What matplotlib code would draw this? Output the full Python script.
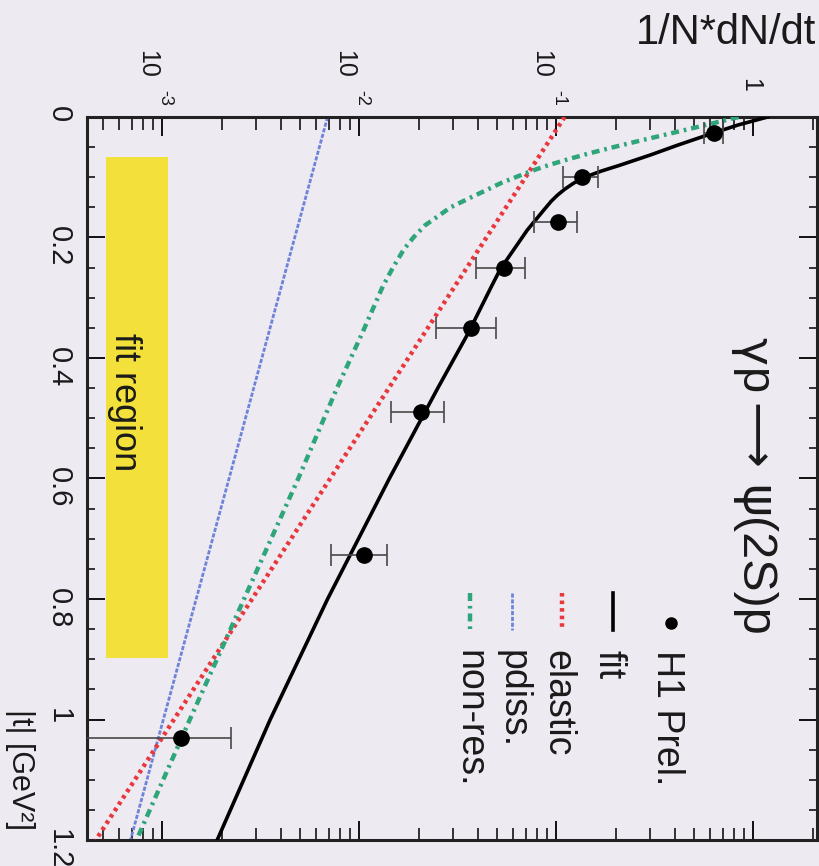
import matplotlib
matplotlib.use("Agg")
import matplotlib.pyplot as plt
import matplotlib.transforms as mtransforms
import numpy as np
from matplotlib.lines import Line2D
from matplotlib.ticker import FixedLocator, FixedFormatter, LogLocator, NullFormatter, MultipleLocator

plt.rcParams['font.family'] = ['Liberation Sans', 'DejaVu Sans']

# H1 preliminary: normalised dN/dt vs |t|
t_data = [0.027, 0.10, 0.175, 0.25, 0.35, 0.49, 0.727, 1.03]
dndt_data = [0.63, 0.135, 0.102, 0.054, 0.037, 0.0206, 0.0105, 0.00124]
dndt_err = [0.07, 0.027, 0.025, 0.015, 0.0125, 0.0062, 0.0033, 0.0010]

t_fit = [0.0, 0.013, 0.027, 0.047, 0.063, 0.08, 0.09, 0.10, 0.11, 0.12, 0.13, 0.14, 0.155,
         0.188, 0.221, 0.252, 0.28, 0.36, 0.45, 0.60, 0.80, 1.00, 1.20]
fit_curve = [1.18, 0.84, 0.62, 0.41, 0.30, 0.21, 0.168, 0.139, 0.122, 0.110, 0.101, 0.094,
             0.086, 0.071, 0.0605, 0.052, 0.047, 0.0355, 0.025, 0.0142, 0.0069, 0.00353, 0.0019]

# non-resonant background
t_nonres = [0.0, 0.01, 0.02, 0.03, 0.04, 0.05, 0.06, 0.07, 0.08, 0.09, 0.10, 0.11, 0.12,
            0.135, 0.15, 0.165, 0.18, 0.20, 0.22, 0.25, 0.28, 0.36, 0.45, 0.60, 0.80, 1.00, 1.20]
nonres_curve = [0.84, 0.63, 0.47, 0.35, 0.26, 0.195, 0.148, 0.115, 0.091, 0.074, 0.062, 0.052,
                0.045, 0.036, 0.029, 0.025, 0.0215, 0.0188, 0.0168, 0.0148, 0.0132, 0.0103,
                0.0077, 0.0049, 0.0026, 0.00138, 0.00074]

# pure exponentials: straight lines on the log axis
t_line = [0.0, 1.2]
elastic_line = [0.11, 4.6e-4]
pdiss_line = [0.0069, 6.9e-4]

fit_t_range = [0.066, 0.898]
fit_band = [5.2e-4, 1.07e-3]

decade_ticks = [1e-3, 1e-2, 1e-1]
decade_exps = ['-3', '-2', '-1']
t_ticks = [0, 0.2, 0.4, 0.6, 0.8, 1.0, 1.2]
t_labels = ['0', '0.2', '0.4', '0.6', '0.8', '1', '1.2']
legend_labels = ['H1 Prel.', 'fit', 'elastic', 'pdiss.', 'non-res.']

bg = '#eeeaf2'
ink = '#1a1a1a'
red = '#e8383d'
blue = '#6f84d8'
green = '#2fa57a'
W, H = 820, 866


def fig_xy(x, y):
    return x / W, 1 - y / H


fig = plt.figure(figsize=(W / 100, H / 100), dpi=100, facecolor=bg)
ax = fig.add_axes([87 / W, 1 - 840 / H, 730 / W, 723 / H], facecolor=bg)

ax.fill_betweenx(fit_t_range, fit_band[0], fit_band[1], color='#f4e03a', lw=0, zorder=1)

ax.plot(pdiss_line, t_line, color=blue, lw=2.0, ls=(0, (1.5, 0.6)), zorder=2)
ax.plot(elastic_line, t_line, color=red, lw=3.2, ls=(0, (0.8, 0.9)), zorder=3)
ax.plot(nonres_curve, t_nonres, color=green, lw=3.2, ls=(0, (1.8, 1.1, 0.6, 1.1)), zorder=3)
ax.plot(fit_curve, t_fit, color='black', lw=2.6, zorder=4)

ax.errorbar(dndt_data, t_data, xerr=dndt_err, fmt='o', ms=11, color='black',
            ecolor='#484848', elinewidth=1.2, capsize=8, capthick=1.2, zorder=5)

ax.set_xscale('log')
ax.set_xlim(4.15e-4, 2.1)
ax.set_ylim(1.2, 0)

# value axis (log) along the top, labels written by hand as 10 + exponent
ax.xaxis.set_major_locator(FixedLocator(decade_ticks + [1]))
ax.xaxis.set_major_formatter(NullFormatter())
ax.xaxis.set_minor_locator(LogLocator(base=10, subs=np.arange(2, 10), numticks=20))
ax.xaxis.set_minor_formatter(NullFormatter())
ax.tick_params(axis='x', which='both', direction='in', top=True, bottom=True,
               labeltop=False, labelbottom=False)
ax.tick_params(axis='x', which='major', length=14, width=1.3)
ax.tick_params(axis='x', which='minor', length=9, width=1.1)

xtr = ax.get_xaxis_transform()
y_lab = (840 - 50) / 723
rot = dict(rotation=-90, rotation_mode='anchor', ha='left', va='baseline', color=ink)
for v, e in zip(decade_ticks, decade_exps):
    ax.text(v, y_lab, '10', fontsize=18, clip_on=False,
            transform=mtransforms.offset_copy(xtr, fig, x=-22, y=0, units='dots'), **rot)
    ax.text(v, y_lab, e, fontsize=13, clip_on=False,
            transform=mtransforms.offset_copy(xtr, fig, x=-2, y=-40, units='dots'), **rot)
ax.text(1, y_lab, '1', fontsize=18, clip_on=False,
        transform=mtransforms.offset_copy(xtr, fig, x=-10, y=-28, units='dots'), **rot)

# |t| axis on the left
ax.yaxis.set_major_locator(FixedLocator(t_ticks))
ax.yaxis.set_major_formatter(FixedFormatter(t_labels))
ax.yaxis.set_minor_locator(MultipleLocator(0.05))
ax.tick_params(axis='y', which='both', direction='in', left=True, right=True,
               labelleft=True, labelright=False, labelrotation=-90)
ax.tick_params(axis='y', which='major', length=13, width=1.3, pad=10, labelsize=21,
               labelcolor=ink)
ax.tick_params(axis='y', which='minor', length=6, width=1.1)

for s in ax.spines.values():
    s.set_linewidth(2.2)
    s.set_color('#222222')

# reaction label, built from pieces (the whole figure is turned a quarter clockwise)
title_parts = [('γ', 337, 'DejaVu Sans', 34), ('p', 368, 'Liberation Sans', 34),
               ('\u27f6', 403, 'DejaVu Sans', 33), ('ψ', 485, 'DejaVu Sans', 36),
               ('(2S)p', 518, 'Liberation Sans', 35)]
for part, ys, fam, fs in title_parts:
    fig.text(*fig_xy(740, ys), part, fontsize=fs, family=fam, **rot)
fig.text(*fig_xy(115, 333), 'fit region', fontsize=26, **rot)
fig.text(*fig_xy(12, 830), '|t| [GeV²]', fontsize=22, rotation=-90, rotation_mode='anchor',
         ha='right', va='baseline', color=ink)
fig.text(*fig_xy(816, 44), '1/N*dN/dt', fontsize=30, ha='right', va='baseline', color=ink)

# legend, drawn by hand
leg_base = [657, 599, 547, 503, 459]
for lab, bx in zip(legend_labels, leg_base):
    fig.text(*fig_xy(bx, 650), lab, fontsize=27, **rot)

leg_mid = [671, 613, 562, 512, 470]
fig.add_artist(Line2D([fig_xy(leg_mid[0], 623)[0]], [fig_xy(leg_mid[0], 623)[1]], marker='o',
                      ms=8, color='black', transform=fig.transFigure))
styles = [dict(color='black', lw=2.6),
          dict(color=red, lw=3.2, ls=(0, (0.8, 0.9))),
          dict(color=blue, lw=2.0, ls=(0, (1.5, 0.6))),
          dict(color=green, lw=3.2, ls=(0, (1.8, 1.1, 0.6, 1.1)))]
for xm, st in zip(leg_mid[1:], styles):
    x0, y0 = fig_xy(xm, 593)
    x1, y1 = fig_xy(xm, 630)
    fig.add_artist(Line2D([x0, x1], [y0, y1], transform=fig.transFigure, **st))

fig.savefig('out.png', dpi=100, facecolor=bg)
